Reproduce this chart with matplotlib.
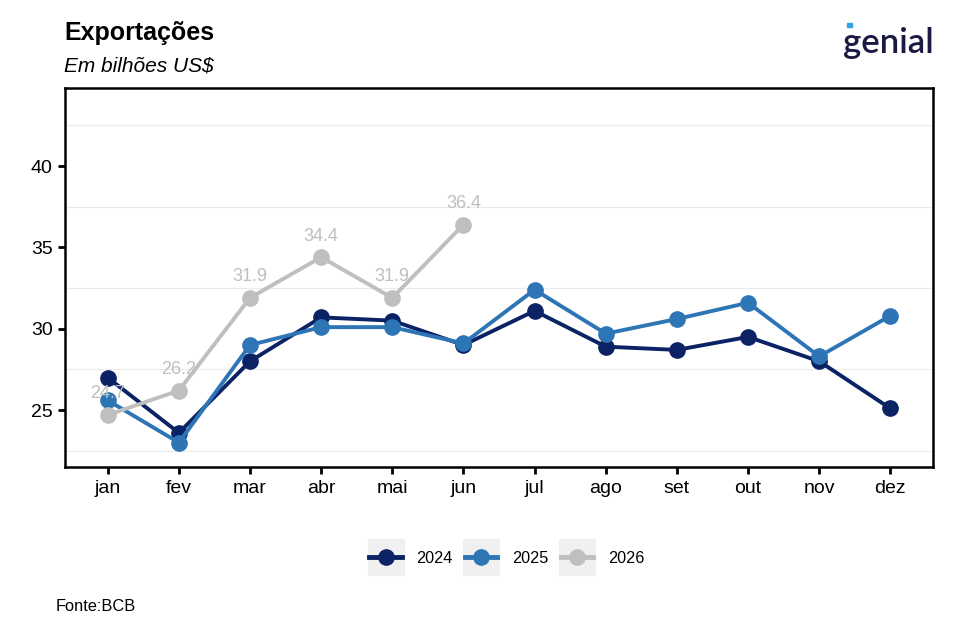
import numpy as np
import matplotlib
matplotlib.use("Agg")
import matplotlib.pyplot as plt
from matplotlib.lines import Line2D
from matplotlib.patches import Rectangle

plt.rcParams['font.family'] = ['Liberation Sans', 'DejaVu Sans']

meses = ['jan', 'fev', 'mar', 'abr', 'mai', 'jun', 'jul', 'ago', 'set', 'out', 'nov', 'dez']
exp_2024 = [27.0, 23.6, 28.0, 30.7, 30.5, 29.0, 31.1, 28.9, 28.7, 29.5, 28.0, 25.1]
exp_2025 = [25.6, 23.0, 29.0, 30.1, 30.1, 29.1, 32.4, 29.7, 30.6, 31.6, 28.3, 30.8]
exp_2026 = [24.7, 26.2, 31.9, 34.4, 31.9, 36.4]

cores = {'2024': '#0b2265', '2025': '#2e75b6', '2026': '#bfbfbf'}

fig = plt.figure(figsize=(9.56, 6.38), dpi=100)
ax = fig.add_axes([0.068, 0.268, 0.908, 0.594])

x = np.arange(1, 13)
ax.plot(x, exp_2024, color=cores['2024'], lw=2.8, marker='o', ms=11, zorder=3)
ax.plot(x, exp_2025, color=cores['2025'], lw=2.8, marker='o', ms=11, zorder=4)
x26 = np.arange(1, len(exp_2026) + 1)
ax.plot(x26, exp_2026, color=cores['2026'], lw=2.8, marker='o', ms=11, zorder=5)
for xi, v in zip(x26, exp_2026):
    ax.annotate(f'{v:.1f}', (xi, v), xytext=(0, 9), textcoords='offset points',
                ha='center', va='bottom', color=cores['2026'], fontsize=13, zorder=6)

ax.set_xlim(0.4, 12.6)
ax.set_ylim(21.5, 44.8)
ax.set_xticks(x)
ax.set_xticklabels(meses)
ax.set_yticks([25, 30, 35, 40])
ax.set_yticks([22.5, 27.5, 32.5, 37.5, 42.5], minor=True)
ax.tick_params(axis='y', which='minor', length=0)
ax.tick_params(axis='both', which='major', labelsize=14, length=5, width=2, colors='black', pad=4)
ax.grid(True, which='minor', axis='y', color='#ebebeb', lw=0.8)
ax.grid(False, which='major')
for s in ax.spines.values():
    s.set_linewidth(1.8)
    s.set_color('black')

fig.text(0.067, 0.93, 'Exportações', fontsize=18, fontweight='bold', ha='left', va='bottom')
fig.text(0.067, 0.882, 'Em bilhões US$', fontsize=15, fontstyle='italic', ha='left', va='bottom')
fig.text(0.058, 0.038, 'Fonte:BCB', fontsize=11.8, ha='left', va='bottom')

# logo
fig.text(0.977, 0.908, 'genial', fontsize=25, color='#1b1a45', ha='right', va='bottom',
         family=['Lato', 'DejaVu Sans'], fontweight='semibold')
fig.patches.append(Rectangle((0.8855, 0.958), 0.006, 0.006, transform=fig.transFigure,
                             color='#2fa3e6', zorder=5))

handles = [Line2D([0], [0], color=cores[k], lw=3.5, marker='o', ms=11) for k in ['2024', '2025', '2026']]
leg = fig.legend(handles, ['2024', '2025', '2026'], loc='center', bbox_to_anchor=(0.53, 0.125),
                 ncol=3, frameon=False, fontsize=11.7, handlelength=2.0, columnspacing=0.75,
                 handletextpad=0.9)
fig.canvas.draw()
for h in leg.legend_handles:
    bb = h.get_window_extent(fig.canvas.get_renderer())
    cx, cy = (bb.x0 + bb.x1) / 2, (bb.y0 + bb.y1) / 2
    w, hh = 36, 36
    fig.patches.append(Rectangle(((cx - w / 2) / 956, (cy - hh / 2) / 638), w / 956, hh / 638,
                                 transform=fig.transFigure, color='#f0f0f0', zorder=0))

fig.savefig('out.png', dpi=100)
